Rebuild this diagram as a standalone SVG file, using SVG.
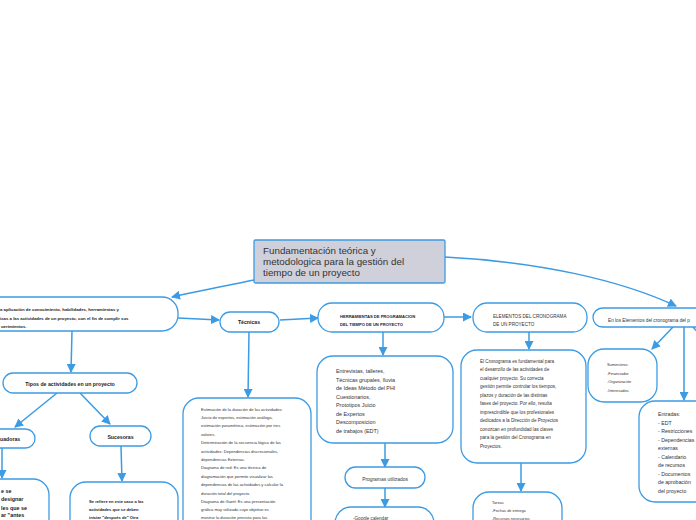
<svg xmlns="http://www.w3.org/2000/svg" width="696" height="520" viewBox="0 0 696 520">
<defs>
<style>
.n{fill:#fff;stroke:#3c9be3;stroke-width:1.3}
.c{fill:none;stroke:#3c9be3;stroke-width:1.5}
.t{font-family:"Liberation Sans",Arial,sans-serif;fill:#333}
.b{font-weight:bold;fill:#222}
</style>
<marker id="ah" markerUnits="userSpaceOnUse" markerWidth="9" markerHeight="9" refX="8" refY="4.5" orient="auto">
<path d="M0,0 L9,4.5 L0,9 z" fill="#3c9be3"/>
</marker>
</defs>
<rect width="696" height="520" fill="#fff"/>
<g id="connectors">
<path class="c" d="M254,280 C225,286 198,291 172,297" marker-end="url(#ah)"/>
<path class="c" d="M445,257 C540,262 620,280 676,306" marker-end="url(#ah)"/>
<path class="c" d="M178,318 L219,320" marker-end="url(#ah)"/>
<path class="c" d="M72,331 L71,372" marker-end="url(#ah)"/>
<path class="c" d="M280,320 L318,318" marker-end="url(#ah)"/>
<path class="c" d="M249,332 L248,397" marker-end="url(#ah)"/>
<path class="c" d="M444,317 L471,317" marker-end="url(#ah)"/>
<path class="c" d="M383,332 L383,355" marker-end="url(#ah)"/>
<path class="c" d="M529,332 L529,349" marker-end="url(#ah)"/>
<path class="c" d="M673,327 L652,349" marker-end="url(#ah)"/>
<path class="c" d="M684,327 L684,400" marker-end="url(#ah)"/>
<path class="c" d="M693,327 L700,335"/>
<path class="c" d="M57,393 L15,427" marker-end="url(#ah)"/>
<path class="c" d="M80,393 L110,424" marker-end="url(#ah)"/>
<path class="c" d="M2,448 L2,478" marker-end="url(#ah)"/>
<path class="c" d="M121,446 L122,481" marker-end="url(#ah)"/>
<path class="c" d="M385,443 L385,467" marker-end="url(#ah)"/>
<path class="c" d="M385,488 L385,507" marker-end="url(#ah)"/>
<path class="c" d="M521,463 L521,491" marker-end="url(#ah)"/>
</g>
<g id="central">
<rect x="254" y="240" width="191" height="43" rx="1.5" fill="#d0d0db" stroke="#3c9be3" stroke-width="1.3"/>
<text class="t" font-size="9.8" fill="#222" x="263"><tspan x="263" y="254">Fundamentación teórica y</tspan><tspan x="263" y="265">metodologica para la gestión del</tspan><tspan x="263" y="276">tiempo de un proyecto</tspan></text>
</g>
<g id="definicion">
<rect class="n" x="-20" y="297" width="198" height="34" rx="16"/>
<text class="t b" font-size="4.3"><tspan x="0" y="311">a aplicación de conocimiento, habilidades, herramientas y</tspan><tspan x="0" y="319.5">icas a las actividades de un proyecto, con el fin de cumplir sus</tspan><tspan x="1" y="327.5">uerimientos.</tspan></text>
</g>
<g id="tecnicas">
<rect class="n" x="220" y="312" width="59" height="20" rx="10"/>
<text class="t b" font-size="5.2" x="249" y="324" text-anchor="middle">Técnicas</text>
</g>
<g id="herramientas">
<rect class="n" x="318" y="303" width="126" height="29" rx="14"/>
<text class="t b" font-size="4.1"><tspan x="340" y="317.5">HERRAMIENTAS DE PROGRAMACION</tspan><tspan x="340" y="325.5">DEL TIEMPO DE UN PROYECTO</tspan></text>
</g>
<g id="elementos">
<rect class="n" x="473" y="303" width="114" height="29" rx="14"/>
<text class="t" font-size="4.6"><tspan x="493" y="317.5">ELEMENTOS DEL CRONOGRAMA</tspan><tspan x="493" y="326">DE UN PROYECTO</tspan></text>
</g>
<g id="enlos">
<rect class="n" x="593" y="308" width="120" height="19" rx="9.5"/>
<text class="t" font-size="4.7" x="608" y="321.5">En los Elementos del cronograma del p</text>
</g>
<g id="tipos">
<rect class="n" x="3" y="373" width="134" height="20" rx="10"/>
<text class="t b" font-size="5.2" x="70" y="386" text-anchor="middle">Tipos de actividades en un proyecto</text>
</g>
<g id="predecesoras">
<rect class="n" x="-25" y="429" width="60" height="19" rx="9.5"/>
<text class="t b" font-size="5.2" x="0" y="441">uadoras</text>
</g>
<g id="sucesoras">
<rect class="n" x="90" y="426" width="61" height="20" rx="10"/>
<text class="t b" font-size="5.2" x="120.5" y="438.5" text-anchor="middle">Sucesoras</text>
</g>
<g id="predecesoras-detalle">
<rect class="n" x="-30" y="479" width="79" height="60" rx="16"/>
<text class="t b" font-size="5.4"><tspan x="1" y="493">e se</tspan><tspan x="1" y="501">designar</tspan><tspan x="1" y="509.5">les que se</tspan><tspan x="1" y="517">ar "antes</tspan></text>
</g>
<g id="sucesoras-detalle">
<rect class="n" x="70" y="482" width="108" height="55" rx="16"/>
<text class="t b" font-size="4.1"><tspan x="89" y="502.5">Se refiere en este caso a las</tspan><tspan x="89" y="511">actividades que se deben</tspan><tspan x="89" y="519">iniciar "después de" Otra</tspan></text>
</g>
<g id="tecnicas-detalle">
<rect class="n" x="183" y="398" width="128" height="140" rx="16"/>
<text class="t" font-size="4.1"><tspan x="201" y="410.5">Estimación de la duración de las actividades:</tspan><tspan x="201" y="418.9">Juicio de expertos, estimación análoga,</tspan><tspan x="201" y="427.3">estimación paramétrica, estimación por tres</tspan><tspan x="201" y="435.7">valores.</tspan><tspan x="201" y="444.1">Determinación de la secuencia lógica de las</tspan><tspan x="201" y="452.5">actividades: Dependencias discrecionales,</tspan><tspan x="201" y="460.9">dependencias Externas.</tspan><tspan x="201" y="469.3">Diagrama de red: Es una técnica de</tspan><tspan x="201" y="477.7">diagramación que permite visualizar las</tspan><tspan x="201" y="486.1">dependencias de las actividades y calcular la</tspan><tspan x="201" y="494.5">duración total del proyecto.</tspan><tspan x="201" y="502.9">Diagrama de Gantt: Es una presentación</tspan><tspan x="201" y="511.3">gráfica muy utilizada cuyo objetivo es</tspan><tspan x="201" y="518.8">mostrar la duración prevista para las</tspan></text>
</g>
<g id="herramientas-detalle">
<rect class="n" x="317" y="356" width="136" height="87" rx="16"/>
<text class="t" font-size="5.4"><tspan x="336" y="373">Entrevistas, talleres,</tspan><tspan x="336" y="381.5">Técnicas grupales, lluvia</tspan><tspan x="336" y="390">de Ideas Método del PHI</tspan><tspan x="336" y="398.5">Cuestionarios,</tspan><tspan x="336" y="407">Prototipos Juicio</tspan><tspan x="336" y="415.5">de Expertos</tspan><tspan x="336" y="424">Descomposicion</tspan><tspan x="336" y="432.5">de trabajos (EDT)</tspan></text>
</g>
<g id="programas">
<rect class="n" x="345" y="467" width="80" height="21" rx="10.5"/>
<text class="t" font-size="4.9" x="385" y="480.5" text-anchor="middle">Programas utilizados</text>
</g>
<g id="google">
<rect class="n" x="335" y="507" width="99" height="40" rx="16"/>
<text class="t" font-size="4.6" x="353" y="519.5">-Google calendar</text>
</g>
<g id="elementos-detalle">
<rect class="n" x="461" y="350" width="125" height="113" rx="16"/>
<text class="t" font-size="4.6"><tspan x="480" y="362.5">El Cronograma es fundamental para</tspan><tspan x="480" y="371">el desarrollo de las actividades de</tspan><tspan x="480" y="379.5">cualquier proyecto. Su correcta</tspan><tspan x="480" y="388">gestión permite controlar los tiempos,</tspan><tspan x="480" y="396.5">plazos y duración de las distintas</tspan><tspan x="480" y="405">fases del proyecto. Por ello, resulta</tspan><tspan x="480" y="413.5">imprescindible que los profesionales</tspan><tspan x="480" y="422">dedicados a la Dirección de Proyectos</tspan><tspan x="480" y="430.5">conozcan en profundidad las claves</tspan><tspan x="480" y="439">para la gestión del Cronograma en</tspan><tspan x="480" y="447.5">Proyectos.</tspan></text>
</g>
<g id="tareas">
<rect class="n" x="473" y="492" width="89" height="45" rx="16"/>
<text class="t" font-size="3.9"><tspan x="492" y="503.5">Tareas</tspan><tspan x="492" y="512">-Fechas de entrega</tspan><tspan x="492" y="519.5">-Recursos necesarios</tspan></text>
</g>
<g id="suministros">
<rect class="n" x="588" y="349" width="69" height="53" rx="16"/>
<text class="t" font-size="3.9"><tspan x="607" y="366">Suministros:</tspan><tspan x="607" y="374.5">-Financiador</tspan><tspan x="607" y="383">-Organización</tspan><tspan x="607" y="391.5">-Interesados</tspan></text>
</g>
<g id="entradas">
<rect class="n" x="639" y="401" width="80" height="101" rx="16"/>
<text class="t" font-size="5.2"><tspan x="658" y="416">Entradas:</tspan><tspan x="658" y="424.5">- EDT</tspan><tspan x="658" y="433">- Restricciones</tspan><tspan x="658" y="441.5">- Dependencias</tspan><tspan x="658" y="450">externas</tspan><tspan x="658" y="458.5">- Calendario</tspan><tspan x="658" y="467">de recursos</tspan><tspan x="658" y="475.5">- Documentos</tspan><tspan x="658" y="484">de aprobación</tspan><tspan x="658" y="492.5">del proyecto</tspan></text>
</g>
</svg>
